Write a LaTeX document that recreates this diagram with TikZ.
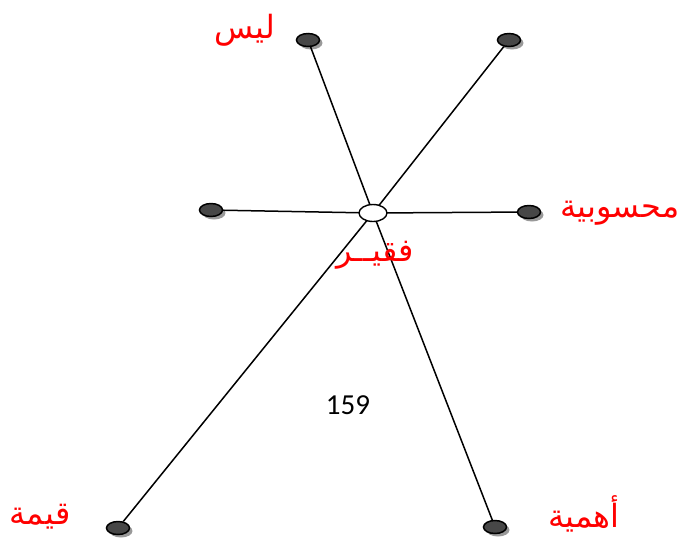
\documentclass[tikz,border=0pt]{standalone}
\usepackage{fontspec}
\usetikzlibrary{shapes.geometric,shadows}
\TeXXeTstate=1
\newfontfamily\arabicfont[Script=Arabic]{DejaVu Sans}
\newfontfamily\numfont{Carlito}
\tikzset{
  dot/.style={ellipse, minimum width=23pt, minimum height=13pt, inner sep=0pt,
    fill=black!72, draw=black, line width=1.5pt,
    drop shadow={shadow xshift=3pt, shadow yshift=-3pt, fill=black!40, opacity=1}},
  hub/.style={ellipse, minimum width=28pt, minimum height=17pt, inner sep=0pt,
    fill=white, draw=black, line width=1.4pt},
  conn/.style={draw=black, line width=1.5pt},
  lab/.style={text=red, font=\arabicfont\fontsize{32}{36}\selectfont, inner sep=0pt},
}
\begin{document}
\begin{tikzpicture}[x=1pt,y=-1pt]
\useasboundingbox (0,0) rectangle (682,539);
\coordinate (c) at (373,213);
\node[dot] (tl) at (308,40) {};
\node[dot] (tr) at (509,40) {};
\node[dot] (l) at (211,210) {};
\node[dot] (r) at (529,212) {};
\node[dot] (bl) at (118,528) {};
\node[dot] (br) at (495,527) {};
\draw[conn] (tl) -- (c);
\draw[conn] (c) -- (br);
\draw[conn] (tr) -- (c);
\draw[conn] (c) -- (bl);
\draw[conn] (l) -- (c);
\draw[conn] (c) -- (r);
\node[hub] (h) at (c) {};
\node[lab] (t1) at (245,30) {\beginR ليس\endR};
\node[lab] (t2) at (620,213) {\beginR محسوبية\endR};
\node[lab] (t3) at (375,255) {\beginR فقيــر\endR};
\node[lab] (t4) at (40,517) {\beginR قيمة\endR};
\node[lab] (t5) at (584,514) {\beginR أهمية\endR};
\node[font=\numfont\fontsize{29}{32}\selectfont, inner sep=0pt] (n) at (348,405) {159};
\end{tikzpicture}
\end{document}
